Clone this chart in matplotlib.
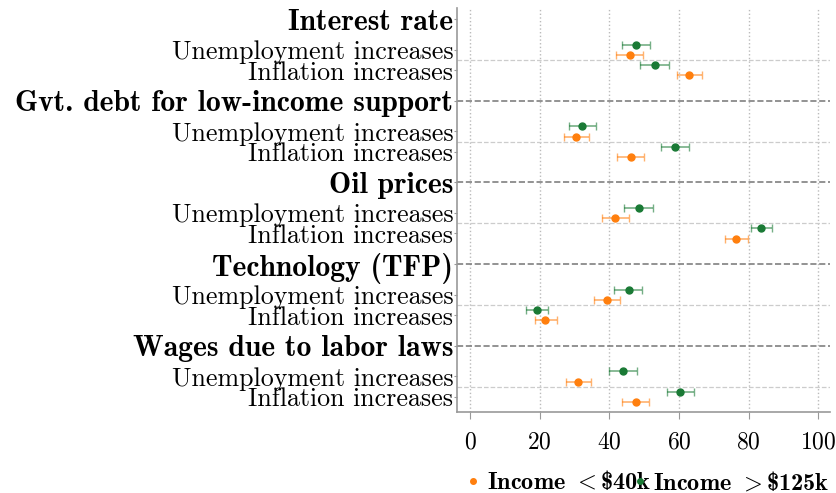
import matplotlib
matplotlib.use("Agg")
import matplotlib.pyplot as plt
import numpy as np

plt.rcParams['font.family'] = 'cmr10'
plt.rcParams['axes.formatter.use_mathtext'] = True
plt.rcParams['mathtext.fontset'] = 'cm'

groups = ["Interest rate", "Gvt. debt for low-income support", "Oil prices",
          "Technology (TFP)", "Wages due to labor laws"]
items = ["Unemployment increases", "Inflation increases"]
series = [r"Income $\mathbf{<}$\$40k", r"Income $\mathbf{>}$\$125k"]

# estimates per group: [unemployment, inflation]
low_est = [[45.8, 62.8], [30.5, 46.1], [41.6, 76.3], [39.4, 21.6], [31.1, 47.5]]
low_lo = [[42.0, 59.3], [27.0, 42.2], [37.9, 73.3], [35.6, 18.5], [27.6, 43.7]]
low_hi = [[49.6, 66.7], [34.1, 50.0], [45.5, 79.7], [43.1, 24.9], [34.8, 51.3]]

high_est = [[47.6, 53.1], [32.2, 58.9], [48.5, 83.6], [45.5, 19.2], [43.9, 60.3]]
high_lo = [[43.5, 48.9], [28.4, 54.9], [44.3, 80.7], [41.4, 16.0], [39.8, 56.4]]
high_hi = [[51.6, 57.2], [36.0, 62.9], [52.6, 86.8], [49.4, 22.4], [48.0, 64.4]]

col_low = "#ff7f0e"
col_high = "#1a7a35"

fig = plt.figure(figsize=(8.36, 4.93), dpi=100)
ax = fig.add_axes([0.547, 0.164, 0.446, 0.820])

ytick_pos = []
ytick_lab = []
for g, name in enumerate(groups):
    base = 4 * g
    ytick_pos.append(base)
    ytick_lab.append(name)
    if g > 0:
        ax.axhline(base, color="#808080", ls="--", lw=1.2, zorder=1)
    ax.axhline(base + 2, color="#cccccc", ls="--", lw=0.9, zorder=1)
    for i, it in enumerate(items):
        yc = base + 1.5 + i
        ytick_pos.append(yc)
        ytick_lab.append(it)
        for est, lo, hi, col, off in [(high_est, high_lo, high_hi, col_high, -0.25),
                                      (low_est, low_lo, low_hi, col_low, 0.25)]:
            e = est[g][i]
            ax.errorbar([e], [yc + off], xerr=[[e - lo[g][i]], [hi[g][i] - e]],
                        fmt="none", ecolor=col, elinewidth=1.2, capsize=3,
                        capthick=1.0, alpha=0.6, zorder=2)
            ax.plot([e], [yc + off], "o", color=col, ms=5, zorder=3)

ax.set_yticks(ytick_pos)
ax.set_yticklabels(ytick_lab)
for lab in ax.get_yticklabels():
    if lab.get_text() in groups:
        lab.set_fontfamily('cmb10')
        lab.set_fontsize(21.3)
    else:
        lab.set_fontsize(18.7)
ax.tick_params(axis='y', length=2, color="#999999", pad=1)
ax.set_xticks([0, 20, 40, 60, 80, 100])
ax.tick_params(axis='x', labelsize=17, length=5, color="#999999", pad=9)
ax.set_xlim(-3.7, 103.4)
ax.set_ylim(19.25, -0.55)
ax.grid(axis='x', ls=":", color="#bbbbbb", lw=1)
ax.set_axisbelow(True)
for s in ["top", "right"]:
    ax.spines[s].set_visible(False)
for s in ["left", "bottom"]:
    ax.spines[s].set_color("#999999")
    ax.spines[s].set_linewidth(1.2)

h1 = ax.plot([], [], "o", color=col_low, ms=4)[0]
h2 = ax.plot([], [], "o", color=col_high, ms=4)[0]
leg = fig.legend([h1, h2], series, loc="center left", bbox_to_anchor=(0.562, 0.022),
                 ncol=2, frameon=False, handlelength=0.3, handletextpad=0.4,
                 columnspacing=-0.6, borderpad=0, borderaxespad=0,
                 prop={'family': 'cmb10', 'size': 17.5})

fig.savefig("out.png", dpi=100)
